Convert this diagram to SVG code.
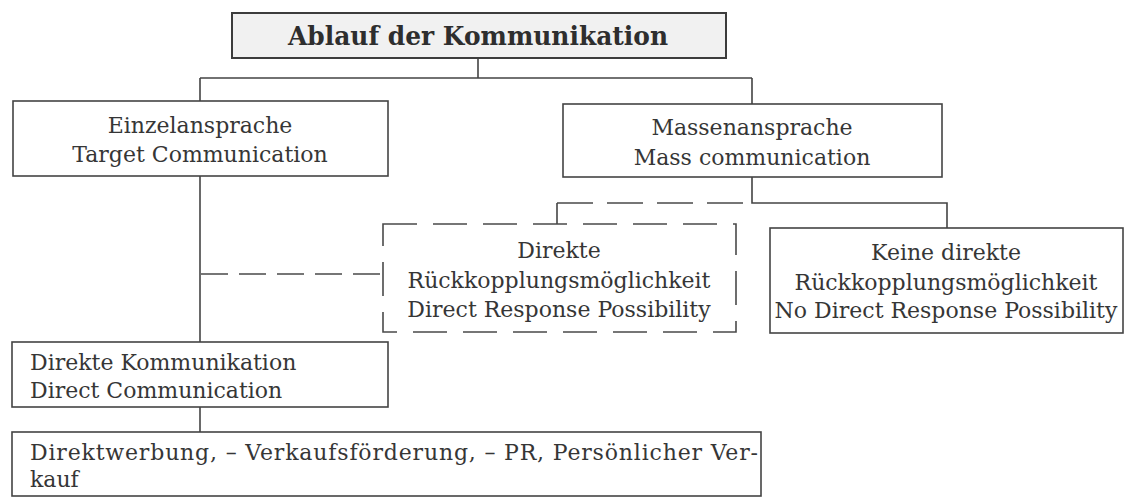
<svg xmlns="http://www.w3.org/2000/svg" width="1128" height="498" viewBox="0 0 1128 498">
  <style>
    .box { fill: #ffffff; stroke: #444444; stroke-width: 1.6; }
    .dbox { fill: none; stroke: #4a4a4a; stroke-width: 1.6; stroke-dasharray: 34 16; }
    .title-box { fill: #f1f1f1; stroke: #3c3c3c; stroke-width: 2; }
    .wire { fill: none; stroke: #444444; stroke-width: 1.6; }
    .wire-dash { fill: none; stroke: #4a4a4a; stroke-width: 1.6; stroke-dasharray: 27 11; }
    .wire-dash2 { fill: none; stroke: #4a4a4a; stroke-width: 1.6; stroke-dasharray: 36 14; }
    text { font-family: "DejaVu Serif", "Liberation Serif", serif; font-size: 22px; fill: #363636; }
    .c { text-anchor: middle; }
    .title { font-weight: bold; font-size: 26px; fill: #2e2e2e; }
  </style>

  <!-- connectors -->
  <g id="connectors">
    <path class="wire" d="M478 58 V78 M200 78 H752 M200 78 V101 M752 78 V104"/>
    <path class="wire" d="M752 177 V203 H947 V228"/>
    <path class="wire-dash2" d="M557 203 H751"/>
    <path class="wire" d="M557 203 V224"/>
    <path class="wire" d="M200 176 V342"/>
    <path class="wire-dash" d="M201 274 H383"/>
    <path class="wire" d="M200 407 V432"/>
  </g>

  <g id="title">
    <rect class="title-box" x="232" y="13" width="494" height="45"/>
    <text class="title c" x="478" y="45" textLength="380" lengthAdjust="spacingAndGlyphs">Ablauf der Kommunikation</text>
  </g>

  <g id="einzel">
    <rect class="box" x="13" y="101" width="375" height="75"/>
    <text class="c" x="200" y="133">Einzelansprache</text>
    <text class="c" x="200" y="162">Target Communication</text>
  </g>

  <g id="masse">
    <rect class="box" x="563" y="104" width="379" height="73"/>
    <text class="c" x="752" y="135">Massenansprache</text>
    <text class="c" x="752" y="165">Mass communication</text>
  </g>

  <g id="direkt-rueck">
    <rect class="dbox" x="383" y="224" width="353" height="108"/>
    <text class="c" x="559" y="258">Direkte</text>
    <text class="c" x="559" y="288">Rückkopplungsmöglichkeit</text>
    <text class="c" x="559" y="317">Direct Response Possibility</text>
  </g>

  <g id="keine-rueck">
    <rect class="box" x="770" y="228" width="353" height="105"/>
    <text class="c" x="946" y="260">Keine direkte</text>
    <text class="c" x="946" y="290">Rückkopplungsmöglichkeit</text>
    <text class="c" x="946" y="318">No Direct Response Possibility</text>
  </g>

  <g id="direkt-komm">
    <rect class="box" x="12" y="342" width="376" height="65"/>
    <text x="30" y="370">Direkte Kommunikation</text>
    <text x="30" y="398">Direct Communication</text>
  </g>

  <g id="instrumente">
    <rect class="box" x="12" y="432" width="749" height="64"/>
    <text x="30" y="460" textLength="728" lengthAdjust="spacing">Direktwerbung, – Verkaufsförderung, – PR, Persönlicher Ver-</text>
    <text x="30" y="487">kauf</text>
  </g>
</svg>
